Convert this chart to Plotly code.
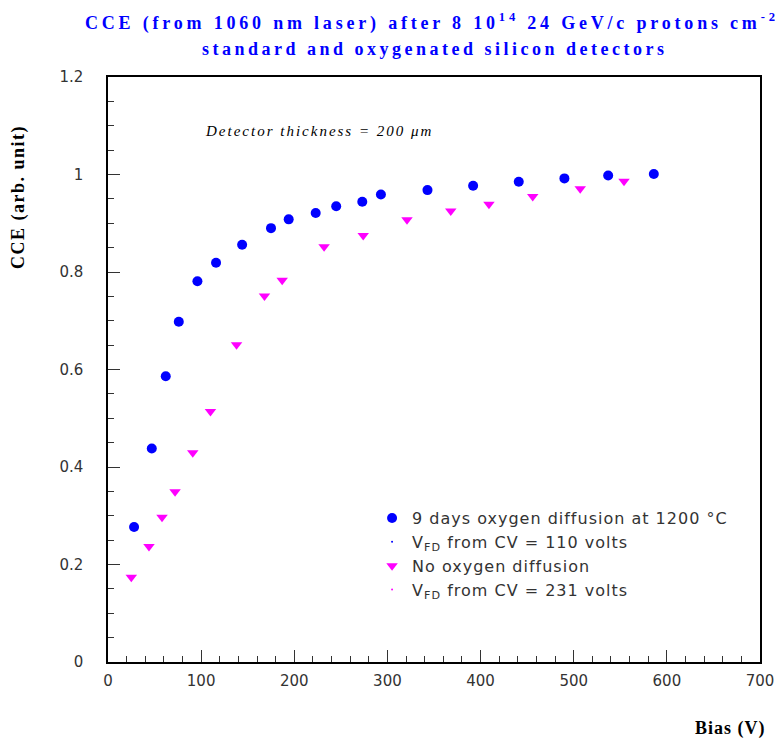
import plotly.graph_objects as go

# Oxygenated (9 days O2 diffusion at 1200 C)
bias_oxy = [28, 47, 62, 76, 96, 116, 144, 175, 194, 223, 245, 273, 293, 343, 392, 441, 490, 537, 586]
cce_oxy = [0.277, 0.438, 0.586, 0.698, 0.781, 0.819, 0.856, 0.890, 0.908, 0.921, 0.935, 0.944, 0.959,
           0.968, 0.977, 0.985, 0.992, 0.998, 1.001]

# Standard (no oxygen diffusion)
bias_std = [25, 44, 58, 72, 91, 110, 138, 168, 187, 232, 274, 321, 368, 409, 456, 507, 554]
cce_std = [0.174, 0.237, 0.297, 0.349, 0.429, 0.514, 0.651, 0.751, 0.783, 0.852, 0.875, 0.907,
           0.925, 0.939, 0.955, 0.971, 0.986]

legend_labels = ["9 days oxygen diffusion at 1200 °C", "V<sub>FD</sub> from CV = 110 volts",
                 "No oxygen diffusion", "V<sub>FD</sub> from CV = 231 volts"]

BLUE = "#0000ff"
MAG = "#ff00ff"


def spaced(t, px):
    return "<span style='letter-spacing:%spx'>%s</span>" % (px, t)


fig = go.Figure()
fig.add_trace(go.Scatter(x=bias_oxy, y=cce_oxy, mode="markers", name=spaced(legend_labels[0], 1),
                         marker=dict(symbol="circle", size=10, color=BLUE)))
fig.add_trace(go.Scatter(x=[None], y=[None], mode="markers", name=spaced(legend_labels[1], 1),
                         marker=dict(symbol="circle", size=2, color=BLUE)))
fig.add_trace(go.Scatter(x=bias_std, y=cce_std, mode="markers", name=spaced(legend_labels[2], 1),
                         marker=dict(symbol="triangle-down", size=10, color=MAG)))
fig.add_trace(go.Scatter(x=[None], y=[None], mode="markers", name=spaced(legend_labels[3], 1),
                         marker=dict(symbol="circle", size=2, color=MAG)))

tickfont = dict(family="DejaVu Sans", size=15, color="#333333")

fig.update_layout(
    width=778, height=741,
    margin=dict(l=108, r=18, t=77, b=79, autoexpand=False),
    paper_bgcolor="white", plot_bgcolor="white",
    showlegend=True,
    legend=dict(x=0.405, y=0.275, xanchor="left", yanchor="top",
                font=dict(family="DejaVu Sans", size=16, color="#333333"),
                bgcolor="rgba(0,0,0,0)", tracegroupgap=0, itemsizing="trace"),
    xaxis=dict(range=[0, 700], dtick=100, tick0=0, showgrid=False, zeroline=False,
               showline=True, linecolor="black", linewidth=1.5, mirror=True,
               ticks="inside", ticklen=12, tickcolor="#333333",
               minor=dict(dtick=20, ticks="inside", ticklen=6, tickcolor="#333333"),
               tickfont=tickfont, ticklabelstandoff=4, automargin=False),
    yaxis=dict(range=[0, 1.2], dtick=0.2, tick0=0, showgrid=False, zeroline=False,
               showline=True, linecolor="black", linewidth=1.5, mirror=True,
               ticks="inside", ticklen=12, tickcolor="#333333",
               minor=dict(dtick=0.05, ticks="inside", ticklen=6, tickcolor="#333333"),
               tickfont=tickfont, ticklabelstandoff=20, automargin=False),
    annotations=[
        dict(text=spaced("<b>CCE (from 1060 nm laser) after 8 10<sup>14</sup> 24 GeV/c protons cm<sup>-2</sup></b>", 3.8),
             xref="paper", yref="paper", x=(432 - 108) / 652, y=(662 - 22) / 585,
             xanchor="center", yanchor="middle", showarrow=False,
             font=dict(family="Liberation Serif", size=18, color=BLUE)),
        dict(text=spaced("<b>standard and oxygenated silicon detectors</b>", 3.5),
             xref="paper", yref="paper", x=(435 - 108) / 652, y=(662 - 49) / 585,
             xanchor="center", yanchor="middle", showarrow=False,
             font=dict(family="Liberation Serif", size=18, color=BLUE)),
        dict(text=spaced("<b>CCE (arb. unit)</b>", 1.5), textangle=-90,
             xref="paper", yref="paper", x=(18 - 108) / 652, y=(662 - 197) / 585,
             xanchor="center", yanchor="middle", showarrow=False,
             font=dict(family="Liberation Serif", size=18, color="black")),
        dict(text=spaced("<b>Bias (V)</b>", 1),
             xref="paper", yref="paper", x=(768 - 108) / 652, y=(662 - 728) / 585,
             xanchor="right", yanchor="middle", showarrow=False,
             font=dict(family="Liberation Serif", size=18, color="black")),
        dict(text=spaced("<i>Detector thickness = 200 μm</i>", 2),
             xref="paper", yref="paper", x=(203 - 108) / 652, y=(662 - 131) / 585,
             xanchor="left", yanchor="middle", showarrow=False,
             font=dict(family="Liberation Serif", size=15, color="black")),
    ],
)

fig.write_html("out.html")
